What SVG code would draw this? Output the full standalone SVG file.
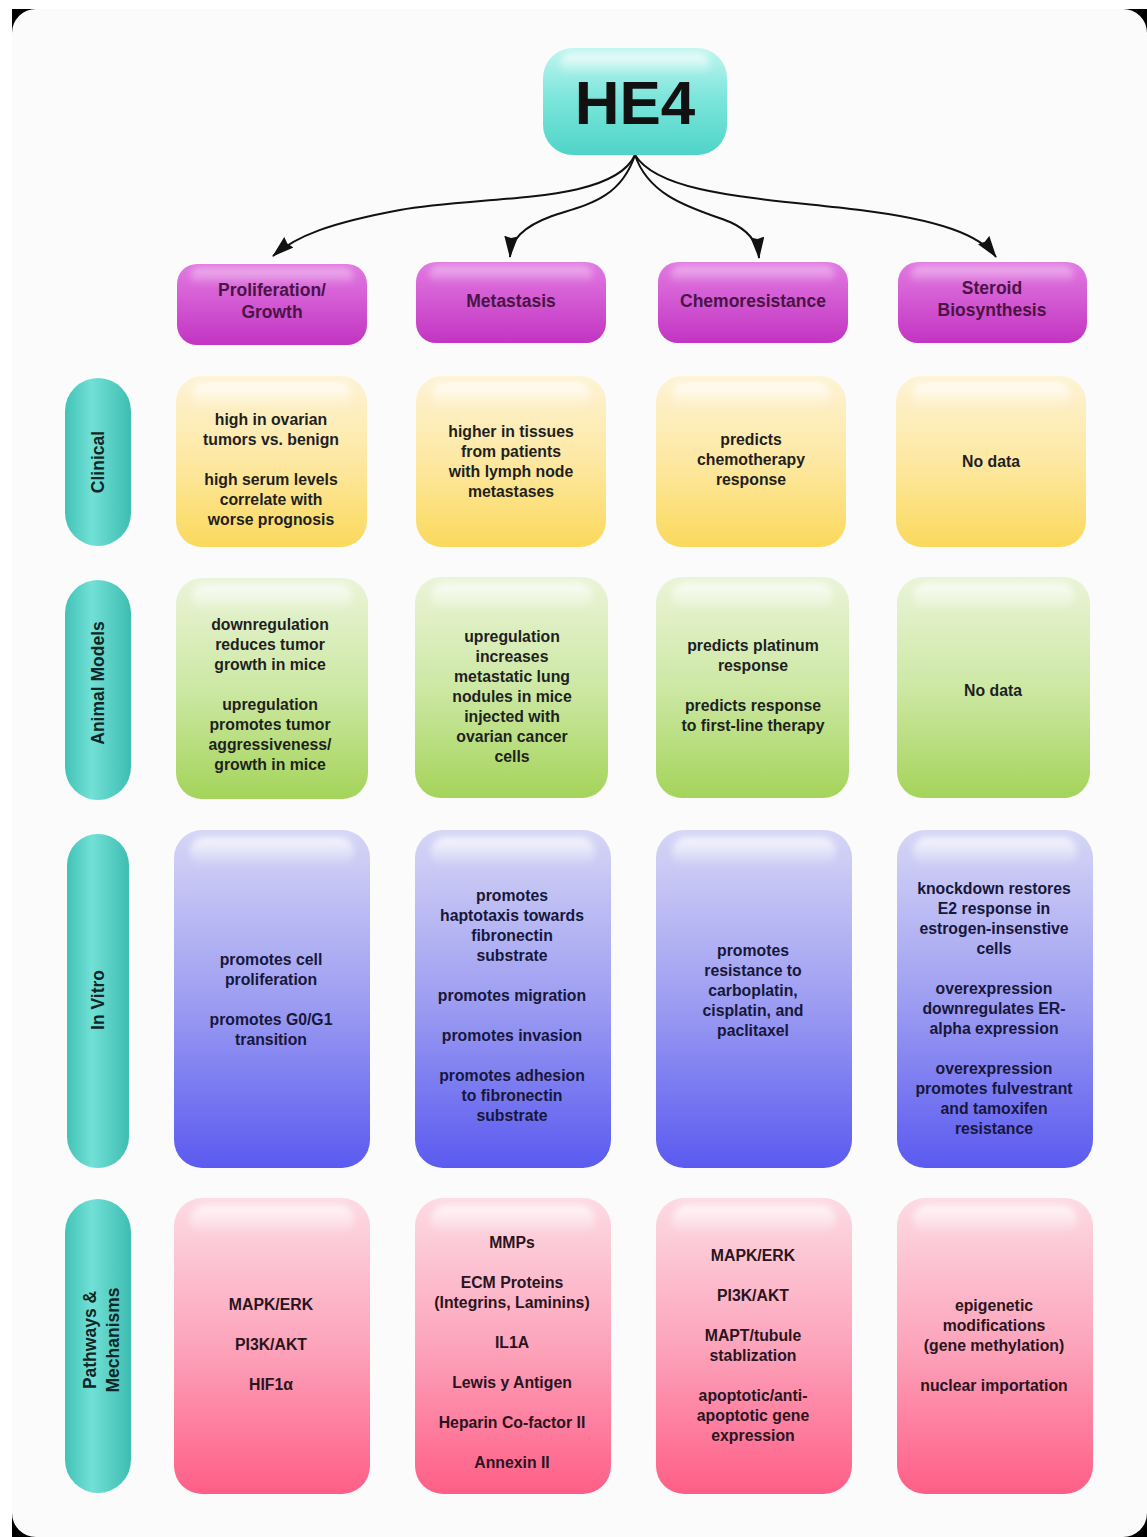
<svg xmlns="http://www.w3.org/2000/svg" width="1147" height="1537" viewBox="0 0 1147 1537">
<style>
.t{font-family:"Liberation Sans",Arial,sans-serif;font-weight:bold;font-size:15.8px;text-anchor:middle;fill:#1f1f1f}
.tb{fill:#17173a}
.tp{fill:#2a1420}
.h{font-family:"Liberation Sans",Arial,sans-serif;font-weight:bold;font-size:17.5px;text-anchor:middle;fill:#4a1446}
.s{font-family:"Liberation Sans",Arial,sans-serif;font-weight:bold;font-size:17.5px;text-anchor:middle;fill:#0f2626}
.conn path{fill:none;stroke:#111;stroke-width:2}
.gl{fill:url(#gl);filter:url(#bl)}
</style>
<defs>
<filter id="bl" x="-20%" y="-50%" width="140%" height="200%"><feGaussianBlur stdDeviation="3"/></filter>
<linearGradient id="gY" x1="0" y1="0" x2="0" y2="1"><stop offset="0" stop-color="#fdf3d6"/><stop offset="0.5" stop-color="#fde8a2"/><stop offset="1" stop-color="#fbd95c"/></linearGradient>
<linearGradient id="gG" x1="0" y1="0" x2="0" y2="1"><stop offset="0" stop-color="#eaf4d8"/><stop offset="0.5" stop-color="#cde8a4"/><stop offset="1" stop-color="#a4d45a"/></linearGradient>
<linearGradient id="gB" x1="0" y1="0" x2="0" y2="1"><stop offset="0" stop-color="#d6d6f6"/><stop offset="0.5" stop-color="#9e9ef2"/><stop offset="1" stop-color="#5a5af0"/></linearGradient>
<linearGradient id="gP" x1="0" y1="0" x2="0" y2="1"><stop offset="0" stop-color="#fcdbe4"/><stop offset="0.5" stop-color="#fca4bb"/><stop offset="1" stop-color="#ff5e86"/></linearGradient>
<linearGradient id="gM" x1="0" y1="0" x2="0" y2="1"><stop offset="0" stop-color="#e27ae2"/><stop offset="1" stop-color="#c234c2"/></linearGradient>
<linearGradient id="gT" x1="0" y1="0" x2="1" y2="0"><stop offset="0" stop-color="#42c2b6"/><stop offset="0.4" stop-color="#72e0d6"/><stop offset="1" stop-color="#3ebdb1"/></linearGradient>
<linearGradient id="gH" x1="0" y1="0" x2="0" y2="1"><stop offset="0" stop-color="#c2f5ef"/><stop offset="0.45" stop-color="#7ee6dc"/><stop offset="1" stop-color="#4fd4c8"/></linearGradient>
<linearGradient id="gl" x1="0" y1="0" x2="0" y2="1"><stop offset="0" stop-color="#fff" stop-opacity="0.8"/><stop offset="1" stop-color="#fff" stop-opacity="0"/></linearGradient>
<marker id="ah" viewBox="0 0 22 14" refX="21" refY="7" markerWidth="11" markerHeight="7" orient="auto" markerUnits="strokeWidth"><path d="M0,0 L22,7 L0,14 L2,7 Z" fill="#111"/></marker>
</defs>
<rect x="12" y="9" width="1135" height="1528" fill="#000"/>
<rect x="12" y="9" width="1135" height="1528" rx="24" fill="#fbfbfb"/>

<g class="conn">
<path d="M635,155 C612,205 480,195 400,210 C330,223 296,236 273,256" marker-end="url(#ah)"/>
<path d="M635,155 C620,200 585,205 552,216 C522,227 511,240 510,257" marker-end="url(#ah)"/>
<path d="M635,155 C650,200 700,210 730,222 C752,232 758,245 759,258" marker-end="url(#ah)"/>
<path d="M635,155 C660,195 760,198 860,210 C940,220 980,235 996,257" marker-end="url(#ah)"/>
</g>

<g id="he4">
<rect x="543" y="48" width="184" height="107" rx="30" fill="url(#gH)"/>
<rect class="gl" x="560" y="53" width="150" height="22" rx="11"/>
<text x="635" y="124" font-family="Liberation Sans,Arial,sans-serif" font-weight="bold" font-size="62" text-anchor="middle" fill="#111">HE4</text>
</g>

<g id="hdr-proliferation">
<rect x="177" y="264" width="190" height="81" rx="20" fill="url(#gM)"/>
<rect class="gl" x="190" y="268" width="164" height="18" rx="9" opacity="0.6"/>
<text class="h" x="272" y="296">Proliferation/</text><text class="h" x="272" y="318">Growth</text>
</g>
<g id="hdr-metastasis">
<rect x="416" y="262" width="190" height="81" rx="20" fill="url(#gM)"/>
<rect class="gl" x="429" y="266" width="164" height="18" rx="9" opacity="0.6"/>
<text class="h" x="511" y="307">Metastasis</text>
</g>
<g id="hdr-chemoresistance">
<rect x="658" y="262" width="190" height="81" rx="20" fill="url(#gM)"/>
<rect class="gl" x="671" y="266" width="164" height="18" rx="9" opacity="0.6"/>
<text class="h" x="753" y="307">Chemoresistance</text>
</g>
<g id="hdr-steroid">
<rect x="898" y="262" width="189" height="81" rx="20" fill="url(#gM)"/>
<rect class="gl" x="911" y="266" width="163" height="18" rx="9" opacity="0.6"/>
<text class="h" x="992" y="294">Steroid</text><text class="h" x="992" y="316">Biosynthesis</text>
</g>

<g id="side-clinical">
<rect x="65" y="378" width="66" height="168" rx="33" fill="url(#gT)"/>
<text class="s" transform="translate(104,462) rotate(-90)">Clinical</text>
</g>
<g id="side-animal">
<rect x="65" y="580" width="66" height="220" rx="33" fill="url(#gT)"/>
<text class="s" transform="translate(104,683) rotate(-90)">Animal Models</text>
</g>
<g id="side-invitro">
<rect x="67" y="834" width="62" height="334" rx="31" fill="url(#gT)"/>
<text class="s" transform="translate(104,1000) rotate(-90)">In Vitro</text>
</g>
<g id="side-pathways">
<rect x="65" y="1199" width="66" height="294" rx="33" fill="url(#gT)"/>
<text class="s" transform="translate(96,1340) rotate(-90)">Pathways &amp;</text>
<text class="s" transform="translate(119,1340) rotate(-90)">Mechanisms</text>
</g>

<!-- Row 1 Clinical -->
<g id="c1-prolif">
<rect x="176" y="376" width="191" height="171" rx="26" fill="url(#gY)"/>
<rect class="gl" x="192" y="382" width="159" height="26" rx="13"/>
<text class="t" x="271" y="425">high in ovarian</text><text class="t" x="271" y="445">tumors vs. benign</text>
<text class="t" x="271" y="485">high serum levels</text><text class="t" x="271" y="505">correlate with</text><text class="t" x="271" y="525">worse prognosis</text>
</g>
<g id="c1-meta">
<rect x="416" y="376" width="190" height="171" rx="26" fill="url(#gY)"/>
<rect class="gl" x="432" y="382" width="158" height="26" rx="13"/>
<text class="t" x="511" y="437">higher in tissues</text><text class="t" x="511" y="457">from patients</text><text class="t" x="511" y="477">with lymph node</text><text class="t" x="511" y="497">metastases</text>
</g>
<g id="c1-chemo">
<rect x="656" y="376" width="190" height="171" rx="26" fill="url(#gY)"/>
<rect class="gl" x="672" y="382" width="158" height="26" rx="13"/>
<text class="t" x="751" y="445">predicts</text><text class="t" x="751" y="465">chemotherapy</text><text class="t" x="751" y="485">response</text>
</g>
<g id="c1-steroid">
<rect x="896" y="376" width="190" height="171" rx="26" fill="url(#gY)"/>
<rect class="gl" x="912" y="382" width="158" height="26" rx="13"/>
<text class="t" x="991" y="467">No data</text>
</g>

<!-- Row 2 Animal -->
<g id="c2-prolif">
<rect x="176" y="578" width="192" height="221" rx="26" fill="url(#gG)"/>
<rect class="gl" x="192" y="584" width="160" height="28" rx="14"/>
<text class="t" x="270" y="630">downregulation</text><text class="t" x="270" y="650">reduces tumor</text><text class="t" x="270" y="670">growth in mice</text>
<text class="t" x="270" y="710">upregulation</text><text class="t" x="270" y="730">promotes tumor</text><text class="t" x="270" y="750">aggressiveness/</text><text class="t" x="270" y="770">growth in mice</text>
</g>
<g id="c2-meta">
<rect x="415" y="577" width="193" height="221" rx="26" fill="url(#gG)"/>
<rect class="gl" x="431" y="583" width="161" height="28" rx="14"/>
<text class="t" x="512" y="642">upregulation</text><text class="t" x="512" y="662">increases</text><text class="t" x="512" y="682">metastatic lung</text><text class="t" x="512" y="702">nodules in mice</text><text class="t" x="512" y="722">injected with</text><text class="t" x="512" y="742">ovarian cancer</text><text class="t" x="512" y="762">cells</text>
</g>
<g id="c2-chemo">
<rect x="656" y="577" width="193" height="221" rx="26" fill="url(#gG)"/>
<rect class="gl" x="672" y="583" width="161" height="28" rx="14"/>
<text class="t" x="753" y="651">predicts platinum</text><text class="t" x="753" y="671">response</text>
<text class="t" x="753" y="711">predicts response</text><text class="t" x="753" y="731">to first-line therapy</text>
</g>
<g id="c2-steroid">
<rect x="897" y="577" width="193" height="221" rx="26" fill="url(#gG)"/>
<rect class="gl" x="913" y="583" width="161" height="28" rx="14"/>
<text class="t" x="993" y="696">No data</text>
</g>

<!-- Row 3 In Vitro -->
<g id="c3-prolif">
<rect x="174" y="830" width="196" height="338" rx="28" fill="url(#gB)"/>
<rect class="gl" x="190" y="837" width="164" height="30" rx="15"/>
<text class="tb t" x="271" y="965">promotes cell</text><text class="tb t" x="271" y="985">proliferation</text>
<text class="tb t" x="271" y="1025">promotes G0/G1</text><text class="tb t" x="271" y="1045">transition</text>
</g>
<g id="c3-meta">
<rect x="415" y="830" width="196" height="338" rx="28" fill="url(#gB)"/>
<rect class="gl" x="431" y="837" width="164" height="30" rx="15"/>
<text class="tb t" x="512" y="901">promotes</text><text class="tb t" x="512" y="921">haptotaxis towards</text><text class="tb t" x="512" y="941">fibronectin</text><text class="tb t" x="512" y="961">substrate</text>
<text class="tb t" x="512" y="1001">promotes migration</text>
<text class="tb t" x="512" y="1041">promotes invasion</text>
<text class="tb t" x="512" y="1081">promotes adhesion</text><text class="tb t" x="512" y="1101">to fibronectin</text><text class="tb t" x="512" y="1121">substrate</text>
</g>
<g id="c3-chemo">
<rect x="656" y="830" width="196" height="338" rx="28" fill="url(#gB)"/>
<rect class="gl" x="672" y="837" width="164" height="30" rx="15"/>
<text class="tb t" x="753" y="956">promotes</text><text class="tb t" x="753" y="976">resistance to</text><text class="tb t" x="753" y="996">carboplatin,</text><text class="tb t" x="753" y="1016">cisplatin, and</text><text class="tb t" x="753" y="1036">paclitaxel</text>
</g>
<g id="c3-steroid">
<rect x="897" y="830" width="196" height="338" rx="28" fill="url(#gB)"/>
<rect class="gl" x="913" y="837" width="164" height="30" rx="15"/>
<text class="tb t" x="994" y="894">knockdown restores</text><text class="tb t" x="994" y="914">E2 response in</text><text class="tb t" x="994" y="934">estrogen-insenstive</text><text class="tb t" x="994" y="954">cells</text>
<text class="tb t" x="994" y="994">overexpression</text><text class="tb t" x="994" y="1014">downregulates ER-</text><text class="tb t" x="994" y="1034">alpha expression</text>
<text class="tb t" x="994" y="1074">overexpression</text><text class="tb t" x="994" y="1094">promotes fulvestrant</text><text class="tb t" x="994" y="1114">and tamoxifen</text><text class="tb t" x="994" y="1134">resistance</text>
</g>

<!-- Row 4 Pathways -->
<g id="c4-prolif">
<rect x="174" y="1198" width="196" height="296" rx="28" fill="url(#gP)"/>
<rect class="gl" x="190" y="1205" width="164" height="30" rx="15"/>
<text class="tp t" x="271" y="1310">MAPK/ERK</text><text class="tp t" x="271" y="1350">PI3K/AKT</text><text class="tp t" x="271" y="1390">HIF1α</text>
</g>
<g id="c4-meta">
<rect x="415" y="1198" width="196" height="296" rx="28" fill="url(#gP)"/>
<rect class="gl" x="431" y="1205" width="164" height="30" rx="15"/>
<text class="tp t" x="512" y="1248">MMPs</text>
<text class="tp t" x="512" y="1288">ECM Proteins</text><text class="tp t" x="512" y="1308">(Integrins, Laminins)</text>
<text class="tp t" x="512" y="1348">IL1A</text>
<text class="tp t" x="512" y="1388">Lewis y Antigen</text>
<text class="tp t" x="512" y="1428">Heparin Co-factor II</text>
<text class="tp t" x="512" y="1468">Annexin II</text>
</g>
<g id="c4-chemo">
<rect x="656" y="1198" width="196" height="296" rx="28" fill="url(#gP)"/>
<rect class="gl" x="672" y="1205" width="164" height="30" rx="15"/>
<text class="tp t" x="753" y="1261">MAPK/ERK</text>
<text class="tp t" x="753" y="1301">PI3K/AKT</text>
<text class="tp t" x="753" y="1341">MAPT/tubule</text><text class="tp t" x="753" y="1361">stablization</text>
<text class="tp t" x="753" y="1401">apoptotic/anti-</text><text class="tp t" x="753" y="1421">apoptotic gene</text><text class="tp t" x="753" y="1441">expression</text>
</g>
<g id="c4-steroid">
<rect x="897" y="1198" width="196" height="296" rx="28" fill="url(#gP)"/>
<rect class="gl" x="913" y="1205" width="164" height="30" rx="15"/>
<text class="tp t" x="994" y="1311">epigenetic</text><text class="tp t" x="994" y="1331">modifications</text><text class="tp t" x="994" y="1351">(gene methylation)</text>
<text class="tp t" x="994" y="1391">nuclear importation</text>
</g>
</svg>
